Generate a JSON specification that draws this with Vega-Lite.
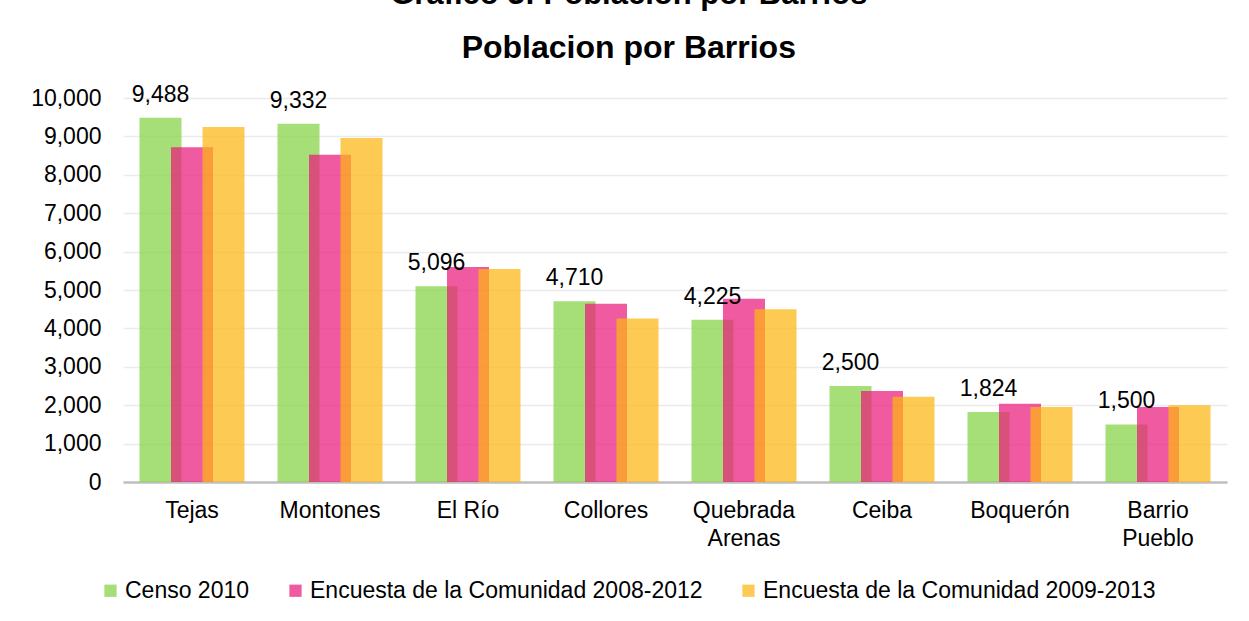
{
  "$schema": "https://vega.github.io/schema/vega-lite/v6.json",
  "width": 1104,
  "height": 384,
  "autosize": "none",
  "padding": {"left": 123, "top": 98, "right": 22, "bottom": 139},
  "background": "white",
  "title": {
    "text": "Gráfico 3: Población por Barrios",
    "subtitle": "Poblacion por Barrios",
    "anchor": "middle",
    "frame": "bounds",
    "font": "Liberation Sans",
    "fontSize": 31,
    "fontWeight": "bold",
    "color": "black",
    "subtitleFont": "Liberation Sans",
    "subtitleFontSize": 32,
    "subtitleFontWeight": "bold",
    "subtitleColor": "black",
    "subtitlePadding": 22,
    "offset": 19
  },
  "data": {
    "values": [
      {"barrio": "Tejas", "serie": "Censo 2010", "poblacion": 9488},
      {"barrio": "Montones", "serie": "Censo 2010", "poblacion": 9332},
      {"barrio": "El Río", "serie": "Censo 2010", "poblacion": 5096},
      {"barrio": "Collores", "serie": "Censo 2010", "poblacion": 4710},
      {"barrio": "Quebrada Arenas", "serie": "Censo 2010", "poblacion": 4225},
      {"barrio": "Ceiba", "serie": "Censo 2010", "poblacion": 2500},
      {"barrio": "Boquerón", "serie": "Censo 2010", "poblacion": 1824},
      {"barrio": "Barrio Pueblo", "serie": "Censo 2010", "poblacion": 1500},
      {"barrio": "Tejas", "serie": "Encuesta de la Comunidad 2008-2012", "poblacion": 8720},
      {"barrio": "Montones", "serie": "Encuesta de la Comunidad 2008-2012", "poblacion": 8520},
      {"barrio": "El Río", "serie": "Encuesta de la Comunidad 2008-2012", "poblacion": 5600},
      {"barrio": "Collores", "serie": "Encuesta de la Comunidad 2008-2012", "poblacion": 4640},
      {"barrio": "Quebrada Arenas", "serie": "Encuesta de la Comunidad 2008-2012", "poblacion": 4770},
      {"barrio": "Ceiba", "serie": "Encuesta de la Comunidad 2008-2012", "poblacion": 2370},
      {"barrio": "Boquerón", "serie": "Encuesta de la Comunidad 2008-2012", "poblacion": 2040},
      {"barrio": "Barrio Pueblo", "serie": "Encuesta de la Comunidad 2008-2012", "poblacion": 1950},
      {"barrio": "Tejas", "serie": "Encuesta de la Comunidad 2009-2013", "poblacion": 9245},
      {"barrio": "Montones", "serie": "Encuesta de la Comunidad 2009-2013", "poblacion": 8960},
      {"barrio": "El Río", "serie": "Encuesta de la Comunidad 2009-2013", "poblacion": 5550},
      {"barrio": "Collores", "serie": "Encuesta de la Comunidad 2009-2013", "poblacion": 4260},
      {"barrio": "Quebrada Arenas", "serie": "Encuesta de la Comunidad 2009-2013", "poblacion": 4500},
      {"barrio": "Ceiba", "serie": "Encuesta de la Comunidad 2009-2013", "poblacion": 2220},
      {"barrio": "Boquerón", "serie": "Encuesta de la Comunidad 2009-2013", "poblacion": 1950},
      {"barrio": "Barrio Pueblo", "serie": "Encuesta de la Comunidad 2009-2013", "poblacion": 2000}
    ]
  },
  "encoding": {
    "y": {
      "field": "poblacion",
      "type": "quantitative",
      "scale": {"domain": [0, 10000], "nice": false},
      "axis": {
        "title": null,
        "values": [0, 1000, 2000, 3000, 4000, 5000, 6000, 7000, 8000, 9000, 10000],
        "tickCount": 11,
        "labelOverlap": false,
        "format": ",.0f",
        "labelFont": "Liberation Sans",
        "labelFontSize": 23,
        "labelColor": "black",
        "labelPadding": 22,
        "ticks": false,
        "domain": false,
        "gridColor": "#ebebeb",
        "gridWidth": 1.5
      }
    }
  },
  "layer": [
    {
      "mark": {"type": "bar", "width": {"band": 1.3333}, "opacity": 0.72},
      "encoding": {
        "x": {
          "field": "barrio",
          "type": "nominal",
          "sort": null,
          "scale": {"paddingInner": 0.087, "paddingOuter": 0.0435},
          "axis": {
            "title": null,
            "labelAngle": 0,
            "labelFont": "Liberation Sans",
            "labelFontSize": 23,
            "labelColor": "black",
            "labelPadding": 17,
            "labelLineHeight": 28,
            "labelExpr": "length(datum.label) > 12 ? split(datum.label, ' ') : datum.label",
            "ticks": false,
            "domainColor": "#bfbfbf",
            "domainWidth": 2.5,
            "grid": false
          }
        },
        "xOffset": {
          "field": "serie",
          "type": "nominal",
          "sort": null,
          "scale": {
            "domain": ["Censo 2010", "Encuesta de la Comunidad 2008-2012", "Encuesta de la Comunidad 2009-2013"],
            "paddingInner": 0,
            "paddingOuter": 0.5,
            "align": 1
          }
        },
        "color": {
          "field": "serie",
          "type": "nominal",
          "sort": null,
          "scale": {
            "domain": ["Censo 2010", "Encuesta de la Comunidad 2008-2012", "Encuesta de la Comunidad 2009-2013"],
            "range": ["#83d144", "#ea1a7b", "#fcb510"]
          },
          "legend": {
            "title": null,
            "orient": "none",
            "direction": "horizontal",
            "legendX": -24,
            "legendY": 481,
            "symbolType": "square",
            "symbolSize": 150,
            "symbolOpacity": 0.72,
            "symbolStrokeWidth": 0,
            "labelFont": "Liberation Sans",
            "labelFontSize": 23,
            "labelColor": "black",
            "labelOffset": 3,
            "columnPadding": 34,
            "labelLimit": 600
          }
        }
      }
    },
    {
      "transform": [{"filter": "datum.serie == 'Censo 2010'"}],
      "mark": {"type": "text", "baseline": "alphabetic", "dy": -16, "font": "Liberation Sans", "fontSize": 23, "color": "black"},
      "encoding": {
        "x": {"field": "barrio", "type": "nominal", "sort": null, "bandPosition": 0.25},
        "text": {"field": "poblacion", "type": "quantitative", "format": ","}
      }
    }
  ],
  "config": {
    "view": {"stroke": null}
  }
}
